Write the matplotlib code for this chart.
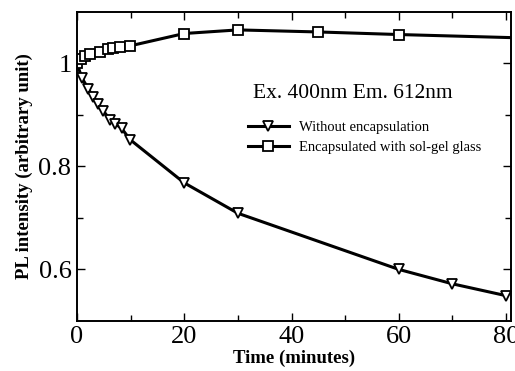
import matplotlib.pyplot as plt
from matplotlib.ticker import MultipleLocator, FixedLocator

plt.rcParams["font.family"] = ["Liberation Serif", "DejaVu Serif"]

# Without encapsulation (triangles)
t_bare = [0, 0.9, 2.1, 3, 4, 4.9, 6.2, 7.1, 8.3, 9.9, 20, 30, 60, 70, 80]
pl_bare = [1.0, 0.972, 0.951, 0.934, 0.921, 0.908, 0.89, 0.883, 0.874, 0.852,
           0.768, 0.709, 0.6, 0.572, 0.549]

# Encapsulated with sol-gel glass (squares); last point only carries the line
t_gel = [0, 0.7, 1.5, 2.5, 4.3, 5.8, 6.7, 8, 9.9, 20, 30, 45, 60, 81]
pl_gel = [1.0, 1.009, 1.014, 1.018, 1.022, 1.027, 1.03, 1.032, 1.034,
          1.058, 1.065, 1.061, 1.056, 1.05]

fig = plt.figure(figsize=(5.15, 3.71), dpi=100)
ax = fig.add_axes([0.1495, 0.135, 0.8425, 0.833])

ax.plot(t_bare, pl_bare, color="black", lw=2.2, marker="v", ms=7,
        mfc="white", mec="black", mew=1.3, label="Without encapsulation")
ax.plot(t_gel, pl_gel, color="black", lw=2.2, marker="s", ms=6.5,
        mfc="white", mec="black", mew=1.3, markevery=list(range(len(t_gel) - 1)),
        label="Encapsulated with sol-gel glass")

ax.set_xlim(0, 80.9)
ax.set_ylim(0.5, 1.1)
ax.xaxis.set_major_locator(FixedLocator([0, 20, 40, 60, 80]))
ax.xaxis.set_minor_locator(MultipleLocator(10))
ax.yaxis.set_major_locator(FixedLocator([0.6, 0.8, 1.0]))
ax.yaxis.set_minor_locator(FixedLocator([0.7, 0.9]))
ax.set_yticklabels(["0.6", "0.8", "1"])
ax.tick_params(which="both", direction="in", top=True, right=True, width=1.0)
ax.tick_params(which="major", length=6, labelsize=19, pad=4)
ax.tick_params(which="minor", length=4)
for s in ax.spines.values():
    s.set_linewidth(1.4)

ax.set_xlabel("Time (minutes)", fontsize=13.5, fontweight="bold", labelpad=1)
ax.set_ylabel("PL intensity (arbitrary unit)", fontsize=13.5, fontweight="bold", labelpad=4)

ax.text(0.405, 0.737, "Ex. 400nm Em. 612nm", transform=ax.transAxes,
        fontsize=15.5, va="center", ha="left")
ax.legend(loc="upper left", bbox_to_anchor=(0.38, 0.665), frameon=False,
          fontsize=10.5, handlelength=2.8, handletextpad=0.7, labelspacing=0.45,
          borderaxespad=0)

fig.savefig("out.png", dpi=100)
